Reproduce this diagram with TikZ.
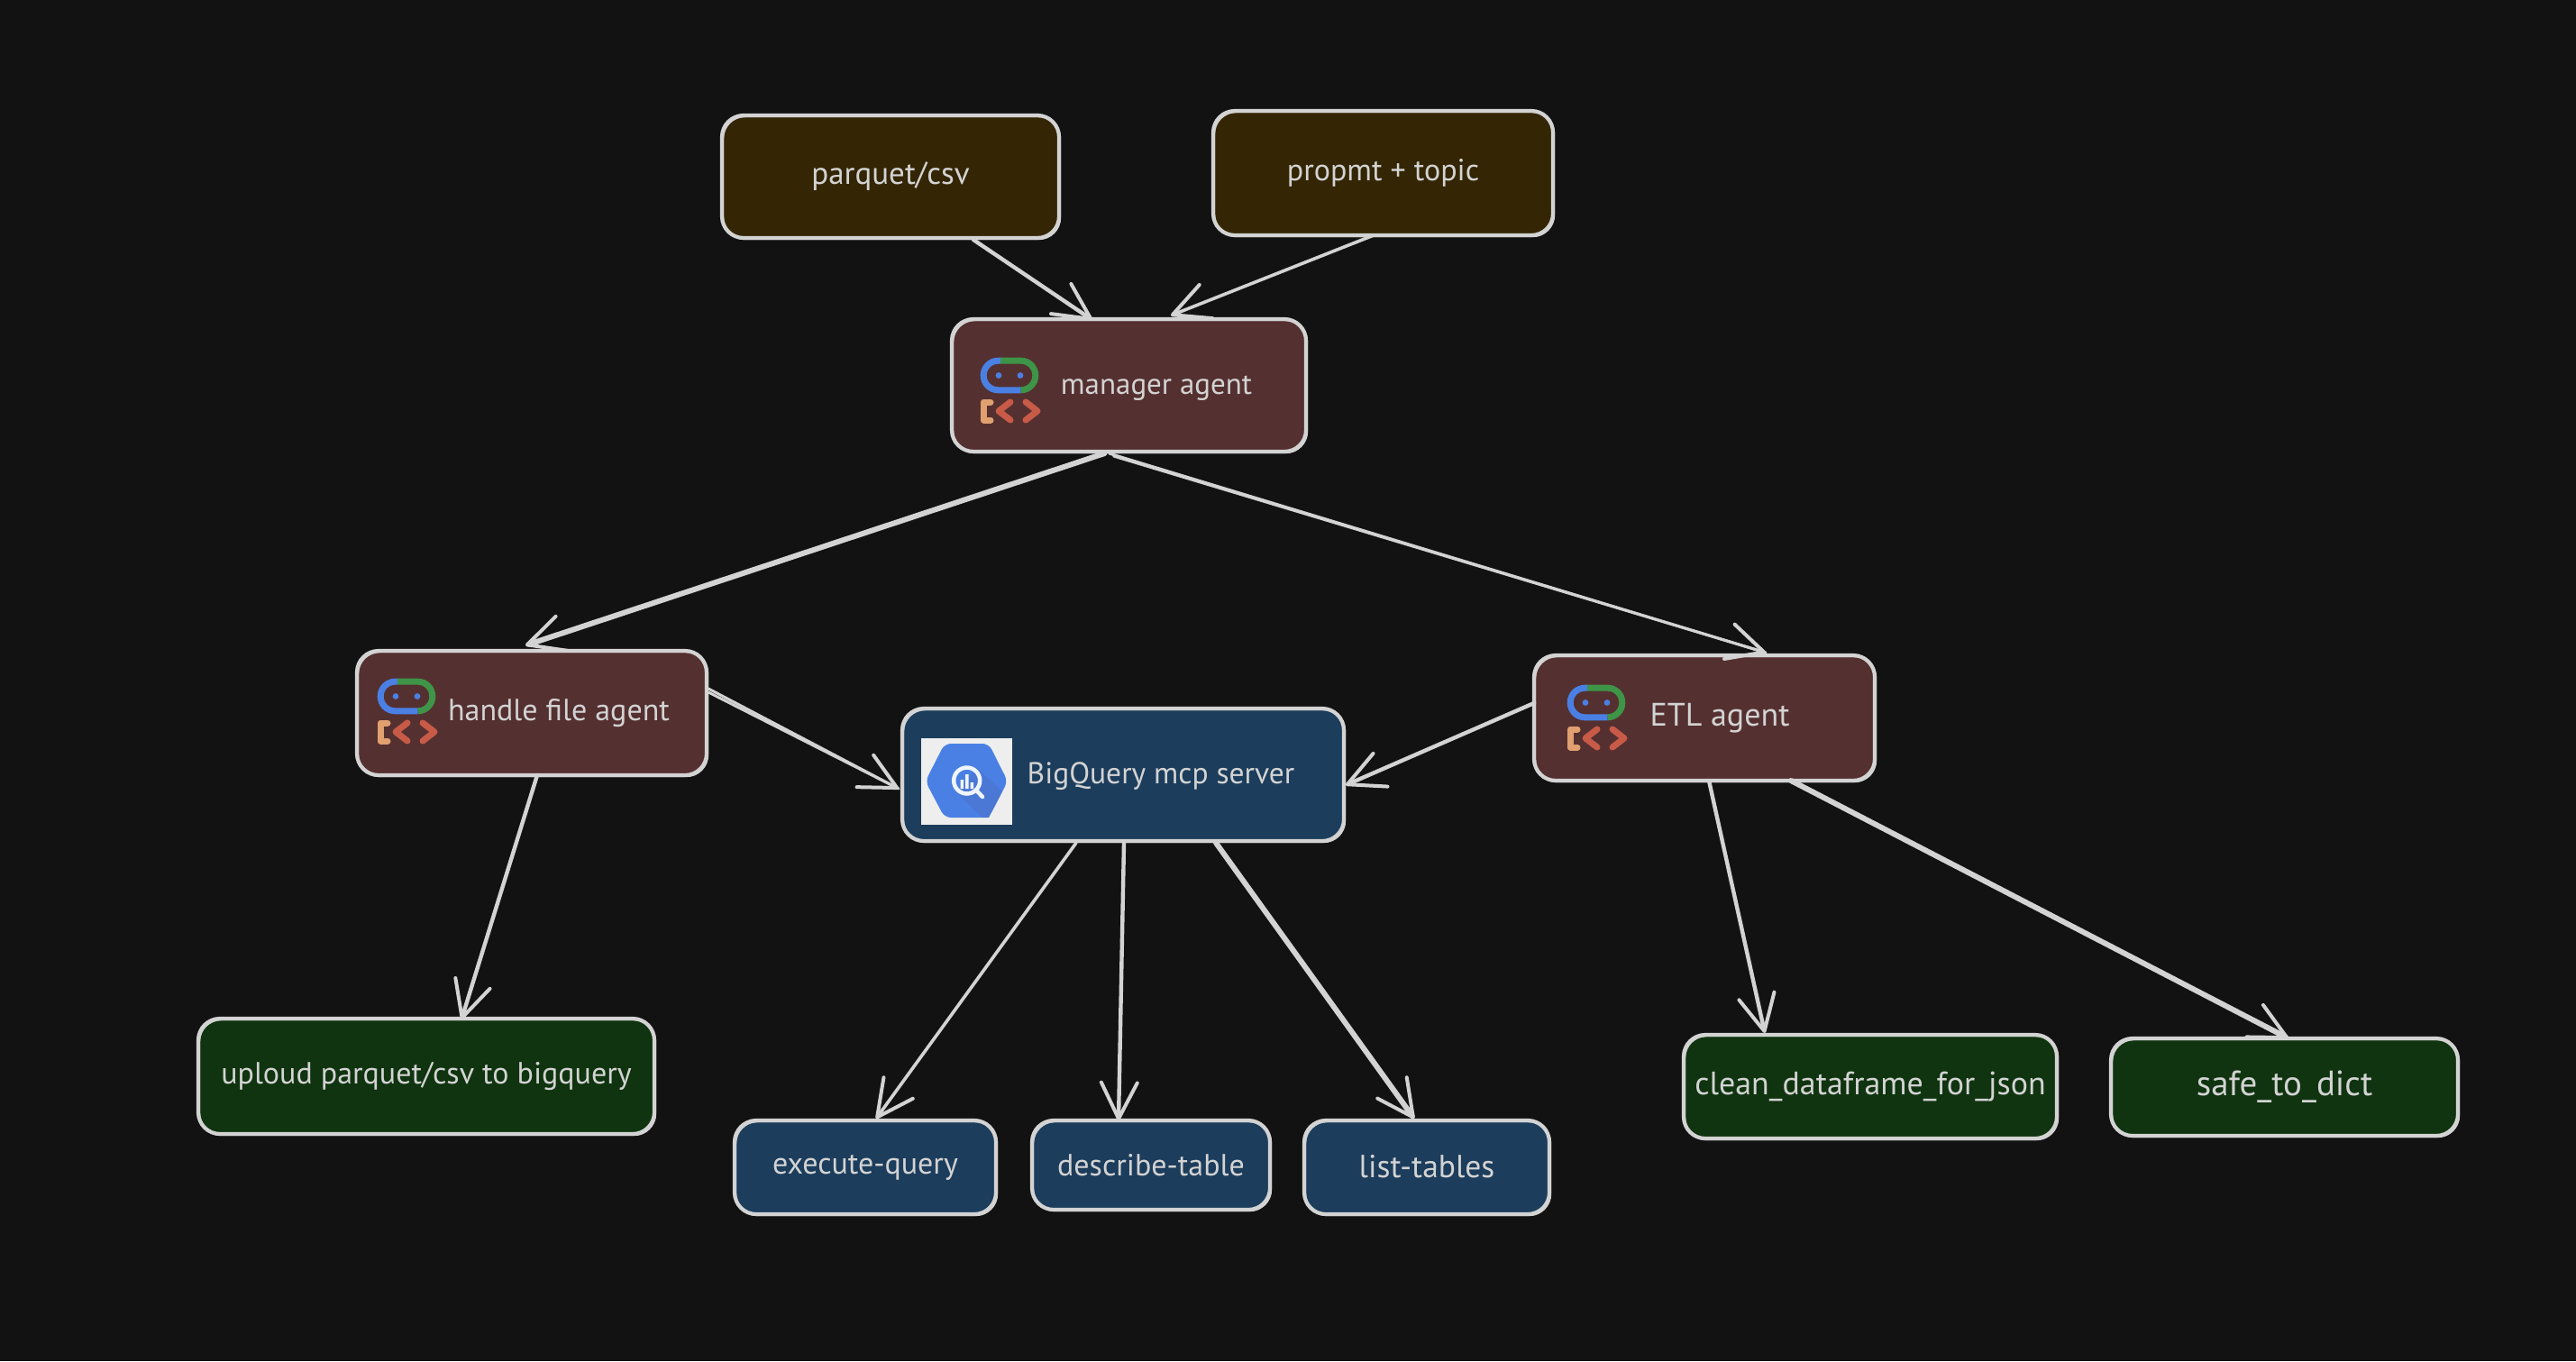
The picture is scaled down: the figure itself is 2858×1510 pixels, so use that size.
\documentclass[tikz,border=0pt]{standalone}
\usepackage{fontspec}
\setmainfont{PT Sans}
\usetikzlibrary{arrows.meta}
\definecolor{bgc}{HTML}{121212}
\definecolor{ink}{HTML}{D3D3D3}
\definecolor{olive}{HTML}{342604}
\definecolor{brown}{HTML}{553030}
\definecolor{navy}{HTML}{1C3D5C}
\definecolor{leaf}{HTML}{0F340F}
\definecolor{gblue}{HTML}{4A80E4}
\definecolor{gblued}{HTML}{4A78D4}
\definecolor{ggreen}{HTML}{3E9447}
\definecolor{gorange}{HTML}{E0A070}
\definecolor{gred}{HTML}{C75B48}
\definecolor{tile}{HTML}{EEEEEE}
\tikzset{
  x=1pt,y=-1pt,
  fs/.style={font=\fontsize{#1}{#1}\selectfont},
  box/.style={draw=ink,line width=4.2pt,rounded corners=24pt,inner sep=0pt,outer sep=0pt,
    text=ink,
    postaction={draw=ink,line width=1.4pt,transform canvas={shift={(1.5pt,-1.5pt)}}}},
  label/.style={text=ink,inner sep=0pt},
  conn/.style={draw=ink,line width=4.4pt,line cap=round,-{Straight Barb[length=40pt,width=40pt,line width=4pt,round]}},
  connheavy/.style={conn,line width=6pt},
  connthin/.style={conn,line width=3.6pt},
  connecho/.style={draw=ink,line width=3pt,line cap=round},
  pill/.style={line width=7pt,line cap=butt,rounded corners=16.2pt},
  codeglyph/.style={line width=7pt,line cap=round,line join=round},
  agenticon/.pic={
    \draw[pill,gblue] (22,3.2) -- (3.2,3.2) -- (3.2,35.8) -- (44.6,35.8);
    \draw[pill,ggreen] (22,3.2) -- (60.8,3.2) -- (60.8,35.8) -- (44.6,35.8);
    \fill[gblue] (20,19.5) circle[radius=3.4] (44,19.5) circle[radius=3.4];
    \draw[codeglyph,gorange] (11,49) -- (3,49) -- (3,69) -- (11,69);
    \draw[codeglyph,gred] (33,49) -- (20,59) -- (33,69);
    \draw[codeglyph,gred] (50,49) -- (63,59) -- (50,69);
  }
}
\begin{document}
\begin{tikzpicture}
\useasboundingbox[fill=bgc] (0,0) rectangle (2858,1510);
% boxes
\node[box,fs=35,fill=olive,minimum width=374pt,minimum height=136pt] (parquet) at (988,196) {\raisebox{-3pt}{parquet/csv}};
\node[box,fs=34,fill=olive,minimum width=377pt,minimum height=138pt] (prompt) at (1534.5,192) {\raisebox{-4pt}{propmt + topic}};
\node[box,fill=brown,minimum width=393pt,minimum height=147pt] (manager) at (1252.5,427.5) {};
\node[box,fill=brown,minimum width=388pt,minimum height=138pt] (handle) at (590,791) {};
\node[box,fill=navy,minimum width=490pt,minimum height=147pt] (bq) at (1246,859.5) {};
\node[box,fill=brown,minimum width=378pt,minimum height=139pt] (etl) at (1891,796.5) {};
\node[box,fs=34,fill=leaf,minimum width=506pt,minimum height=128pt] (upload) at (473,1194) {\raisebox{-2pt}{uploud parquet/csv to bigquery}};
\node[box,fs=34,fill=navy,minimum width=290pt,minimum height=104pt] (execute) at (960,1295) {\raisebox{-2pt}{execute-query}};
\node[box,fs=34,fill=navy,minimum width=264pt,minimum height=99pt] (describe) at (1277,1292.5) {describe-table};
\node[box,fs=35.5,fill=navy,minimum width=272pt,minimum height=104pt] (list) at (1583,1295) {\raisebox{3pt}{list-tables}};
\node[box,fs=36,fill=leaf,minimum width=414pt,minimum height=115pt] (clean) at (2075,1205.5) {\raisebox{-2pt}{clean\_dataframe\_for\_json}};
\node[box,fs=39,fill=leaf,minimum width=385pt,minimum height=108pt] (safe) at (2534.5,1206) {safe\_to\_dict};
% labels on icon boxes
\node[label,fs=33] (managerlabel) at (1283,431) {manager agent};
\node[label,fs=34] (handlelabel) at (620,791) {handle file agent};
\node[label,fs=36] (etllabel) at (1908,797) {ETL agent};
\node[label,fs=33.5] (bqlabel) at (1288,861) {BigQuery mcp server};
% agent icons
\pic at (1088,397) {agenticon};
\pic at (419,753) {agenticon};
\pic at (1739,760) {agenticon};
% bigquery icon
\fill[tile] (1022,819) rectangle (1123,915);
\fill[gblue,rounded corners=7pt] (1026.7,866.7) -- (1048,825) -- (1097,825) -- (1118,866.7) -- (1097,907) -- (1048,907) -- cycle;
\fill[gblued] (1084,852) -- (1112,878) -- (1097,907) -- (1090,907) -- (1060,878) -- cycle;
\draw[white!92!gblue,line width=4.5pt] (1072.7,866) circle[radius=14.5];
\draw[white!92!gblue,line width=4.5pt,line cap=round] (1083,876.5) -- (1090,884);
\fill[white!92!gblue] (1065.5,865) rectangle (1069,875) (1071,859) rectangle (1074.5,875) (1076.5,868) rectangle (1080,875);
% connectors
\draw[conn] ([xshift=92pt,yshift=-2pt]parquet.south) -- ([xshift=-40.5pt,yshift=-1pt]manager.north);
\draw[connthin] ([xshift=-10.5pt]prompt.south) -- ([xshift=46.5pt,yshift=4pt]manager.north);
\draw[connheavy] ([xshift=-27pt,yshift=-2pt]manager.south) -- ([xshift=-7pt,yshift=6pt]handle.north);
\draw[conn,line width=3pt] ([xshift=-22pt,yshift=-2pt]manager.south) -- ([xshift=68pt,yshift=3pt]etl.north);
\draw[connecho] ([xshift=-17pt,yshift=-5pt]manager.south) -- ([xshift=68pt,yshift=3pt]etl.north);
\draw[conn,line width=3pt] ([xshift=2pt,yshift=27pt]handle.east) -- ([xshift=-4pt,yshift=-15.5pt]bq.west);
\draw[connecho] ([xshift=2pt,yshift=23pt]handle.east) -- ([xshift=-4pt,yshift=-15.5pt]bq.west);
\draw[conn] ([yshift=16.5pt]etl.west) -- ([xshift=2pt,yshift=-11.5pt]bq.east);
\draw[conn] ([xshift=6pt]handle.south) -- ([xshift=39pt,yshift=-1pt]upload.north);
\draw[connthin] ([xshift=-52pt,yshift=-2pt]bq.south) -- ([xshift=12pt,yshift=2pt]execute.north);
\draw[conn] ([xshift=1pt,yshift=-2pt]bq.south) -- ([xshift=-36pt]describe.north);
\draw[connheavy] ([xshift=103pt,yshift=-2pt]bq.south) -- ([xshift=-14pt,yshift=2pt]list.north);
\draw[conn] ([xshift=5pt]etl.south) -- ([xshift=-117pt,yshift=2pt]clean.north);
\draw[connheavy] ([xshift=96pt]etl.south) -- ([xshift=4.5pt]safe.north);
\end{tikzpicture}
\end{document}
